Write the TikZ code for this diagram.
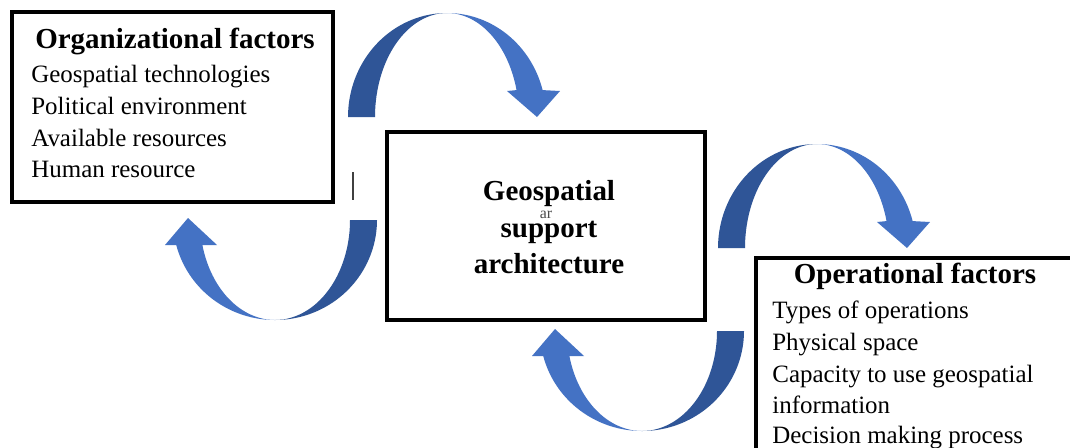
\documentclass[tikz,border=0pt]{standalone}
\usepackage{fontspec}
\setmainfont{Liberation Serif}
\definecolor{arrdark}{RGB}{47,85,151}
\definecolor{arrlight}{RGB}{68,114,196}
\tikzset{
  boxframe/.style={draw=black, line width=2.3pt, fill=white, rectangle, inner sep=0pt, outer sep=0pt},
  titletext/.style={font=\fontsize{16.5}{19}\selectfont\bfseries, inner sep=0pt},
  itemtext/.style={font=\fontsize{14.2}{17}\selectfont, inner sep=0pt, anchor=base west},
  centertext/.style={font=\fontsize{16.5}{19}\selectfont\bfseries, inner sep=0pt, anchor=base},
}
\newcommand{\curveddownarrow}{%
  \fill[arrdark] plot[domain=90:180, samples=40] ({447+99*cos(\x)},{117-104*sin(\x)})
     -- plot[domain=180:90, samples=40] ({447+72*cos(\x)},{117-104*sin(\x)}) -- cycle;
  \fill[arrlight] plot[domain=90:15, samples=40] ({447+99*cos(\x)},{117-104*sin(\x)})
     -- (560,91) -- (537,117) -- (507,91)
     -- plot[domain=15:90, samples=40] ({447+72*cos(\x)},{117-104*sin(\x)}) -- cycle;
}
\newcommand{\curveduparrow}{%
  \fill[arrdark] plot[domain=0:90, samples=40] ({275+102*cos(\x)},{220+100*sin(\x)})
     -- plot[domain=90:0, samples=40] ({275+75*cos(\x)},{220+100*sin(\x)}) -- cycle;
  \fill[arrlight] plot[domain=90:165.5, samples=40] ({275+102*cos(\x)},{220+100*sin(\x)})
     -- (165,245) -- (188,218) -- (217,245)
     -- plot[domain=165.5:90, samples=40] ({275+75*cos(\x)},{220+100*sin(\x)}) -- cycle;
}
\begin{document}
\begin{tikzpicture}[x=0.02cm, y=-0.02cm]
\useasboundingbox (0,0) rectangle (1070,447);
\clip (0,0) rectangle (1070,447);
\fill[white] (0,0) rectangle (1070,447);

% block arrows
\begin{scope}\curveddownarrow\end{scope}
\begin{scope}[shift={(370,131)}]\curveddownarrow\end{scope}
\begin{scope}\curveduparrow\end{scope}
\begin{scope}[shift={(367,111)}]\curveduparrow\end{scope}

% boxes
\node[boxframe, minimum width=6.42cm, minimum height=3.80cm] (orgbox) at (172.5,107) {};
\node[boxframe, minimum width=6.36cm, minimum height=3.76cm] (centbox) at (546,226) {};
\node[boxframe, minimum width=6.68cm, minimum height=4.24cm] (opbox) at (923,364) {};

% organizational factors
\node[titletext, anchor=base] (orgtitle) at (175,48) {Organizational factors};
\node[itemtext] (org1) at (31,82) {Geospatial technologies};
\node[itemtext] (org2) at (31,114) {Political environment};
\node[itemtext] (org3) at (31,146) {Available resources};
\node[itemtext] (org4) at (31,177) {Human resource};

% centre
\node[centertext] (c1) at (549,200) {Geospatial};
\node[centertext] (c2) at (549,237) {support};
\node[centertext] (c3) at (549,273) {architecture};
\node[font=\fontsize{9}{10}\selectfont, text=black!70, inner sep=0pt, anchor=base] (glitch) at (546,218) {ar};

% operational factors
\node[titletext, anchor=base] (optitle) at (915,283) {Operational factors};
\node[itemtext] (op1) at (772,318) {Types of operations};
\node[itemtext] (op2) at (772,350) {Physical space};
\node[itemtext] (op3) at (772,382) {Capacity to use geospatial};
\node[itemtext] (op4) at (772,413) {information};
\node[itemtext] (op5) at (772,443) {Decision making process};

% small stray bar
\draw[line width=1pt, black!75] (353,172) -- (353,200);
\end{tikzpicture}
\end{document}
